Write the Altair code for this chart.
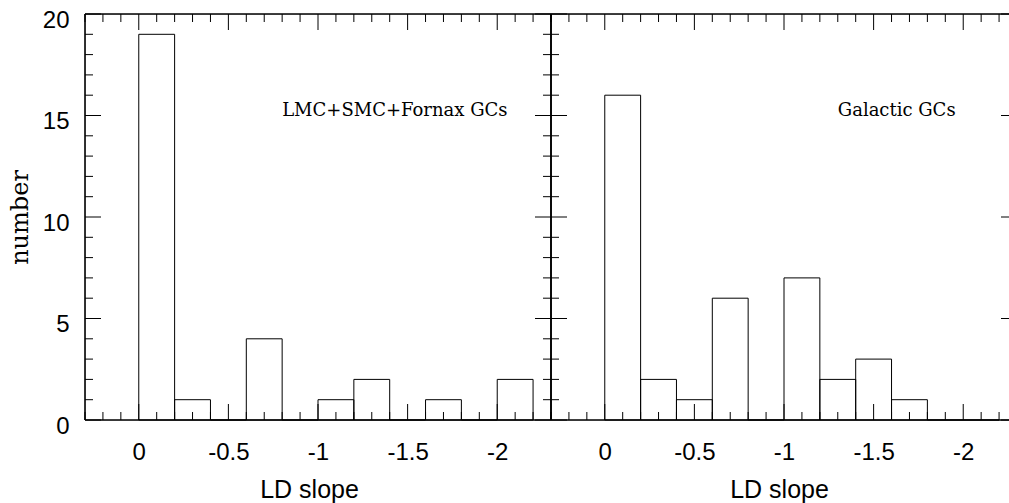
import altair as alt
import pandas as pd

# ---- data ----
bin_lo = [0.0, -0.2, -0.4, -0.6, -0.8, -1.0, -1.2, -1.4, -1.6, -1.8, -2.0]
bin_hi = [-0.2, -0.4, -0.6, -0.8, -1.0, -1.2, -1.4, -1.6, -1.8, -2.0, -2.2]
counts_lmc = [19, 1, 0, 4, 0, 1, 2, 0, 1, 0, 2]
counts_gal = [16, 2, 1, 6, 0, 7, 2, 3, 1, 0, 0]

note_lmc = "LMC+SMC+Fornax GCs"
note_gal = "Galactic GCs"
note_lmc_x = -0.8
note_gal_x = -1.3
note_y = 15

x_major = [0, -0.5, -1, -1.5, -2]
x_minor = [0.3, 0.2, 0.1, -0.1, -0.2, -0.3, -0.4, -0.6, -0.7, -0.8, -0.9,
           -1.1, -1.2, -1.3, -1.4, -1.6, -1.7, -1.8, -1.9, -2.1, -2.2, -2.3]
y_major = [0, 5, 10, 15, 20]
y_minor = [1, 2, 3, 4, 6, 7, 8, 9, 11, 12, 13, 14, 16, 17, 18, 19]

# ---- layout ----
W, H = 924, 406
PW = 466
MAJ, MIN = 16, 8

yscale = alt.Scale(domain=[0, 20], nice=False, zero=False)
yaxis = alt.Axis(
    values=y_major, orient="left", grid=False, domain=False, ticks=False,
    tickSize=0, labelPadding=16, labelFontSize=24, labelFont="Liberation Sans",
    labelColor="black", labelBaseline="middle", labelOffset=6,
    labelAlign="right", labelFlush=False, labelOverlap=False,
    labelExpr="toString(datum.value)",
    title="number", titleFont="DejaVu Serif", titleFontSize=24,
    titleFontWeight="normal", titleColor="black", titleAngle=270,
    titleBaseline="alphabetic", titleAlign="center", titleX=-58, titleY=203,
)
one = pd.DataFrame({"a": [0]})


def panel(counts, note, note_x, rng, title_x):
    x0, x1 = rng
    xs = alt.Scale(domain=[0.3, -2.3], range=rng, nice=False, zero=False)
    xaxis = alt.Axis(
        values=x_major, orient="bottom", grid=False, domain=False, ticks=False,
        tickSize=0, labelPadding=20, labelFontSize=24, labelFont="Liberation Sans",
        labelColor="black", labelFlush=False, labelOverlap=False,
        labelExpr="datum.value == 0 ? '0' : '-' + toString(abs(datum.value))",
        title="LD slope", titleFont="Liberation Sans", titleFontSize=25,
        titleFontWeight="normal", titleColor="black", titleBaseline="alphabetic",
        titleAlign="center", titleX=title_x, titleY=77,
    )
    hist = pd.DataFrame({"lo": bin_lo, "hi": bin_hi, "n": counts})

    layers = []
    # frame
    frame_style = dict(stroke="black", strokeWidth=1.6)
    layers.append(alt.Chart(one).mark_rule(**frame_style).encode(
        x=alt.value(x0), x2=alt.value(x1), y=alt.value(0)))
    layers.append(alt.Chart(one).mark_rule(**frame_style).encode(
        x=alt.value(x0), x2=alt.value(x1), y=alt.value(H)))
    layers.append(alt.Chart(one).mark_rule(**frame_style).encode(
        x=alt.value(x0), y=alt.value(0), y2=alt.value(H)))
    layers.append(alt.Chart(one).mark_rule(**frame_style).encode(
        x=alt.value(x1), y=alt.value(0), y2=alt.value(H)))

    tick_style = dict(stroke="black", strokeWidth=1)
    for vals, L in ((x_major, MAJ), (x_minor, MIN)):
        d = pd.DataFrame({"v": vals})
        layers.append(alt.Chart(d).mark_rule(**tick_style).encode(
            x=alt.X("v:Q", scale=xs, axis=xaxis), y=alt.value(H), y2=alt.value(H - L)))
        layers.append(alt.Chart(d).mark_rule(**tick_style).encode(
            x=alt.X("v:Q", scale=xs, axis=xaxis), y=alt.value(0), y2=alt.value(L)))
    for vals, L in ((y_major, MAJ), (y_minor, MIN)):
        d = pd.DataFrame({"v": vals})
        layers.append(alt.Chart(d).mark_rule(**tick_style).encode(
            y=alt.Y("v:Q", scale=yscale, axis=yaxis), x=alt.value(x0), x2=alt.value(x0 + L)))
        layers.append(alt.Chart(d).mark_rule(**tick_style).encode(
            y=alt.Y("v:Q", scale=yscale, axis=yaxis), x=alt.value(x1 - L), x2=alt.value(x1)))

    layers.append(alt.Chart(hist).mark_rect(
        fillOpacity=0, stroke="black", strokeWidth=1
    ).encode(
        x=alt.X("lo:Q", scale=xs, axis=xaxis),
        x2="hi:Q",
        y=alt.Y("n:Q", scale=yscale, axis=yaxis),
        y2=alt.datum(0),
    ))

    nd = pd.DataFrame({"x": [note_x], "y": [note_y], "t": [note]})
    layers.append(alt.Chart(nd).mark_text(
        align="left", baseline="alphabetic", font="DejaVu Serif", fontSize=18,
        color="black"
    ).encode(
        x=alt.X("x:Q", scale=xs, axis=xaxis),
        y=alt.Y("y:Q", scale=yscale, axis=yaxis),
        text="t:N",
    ))
    return alt.layer(*layers)


left = panel(counts_lmc, note_lmc, note_lmc_x, [0, PW], 224)
right = panel(counts_gal, note_gal, note_gal_x, [PW, 2 * PW], 694)

chart = alt.layer(left, right).resolve_scale(x="independent").properties(
    width=W, height=H,
    autosize=alt.AutoSizeParams(type="none"),
    padding={"left": 85, "top": 14, "right": 0, "bottom": 83},
).configure_view(stroke="transparent").configure(background="white")

chart.save("out.html", embed_options={"renderer": "svg", "actions": False})
